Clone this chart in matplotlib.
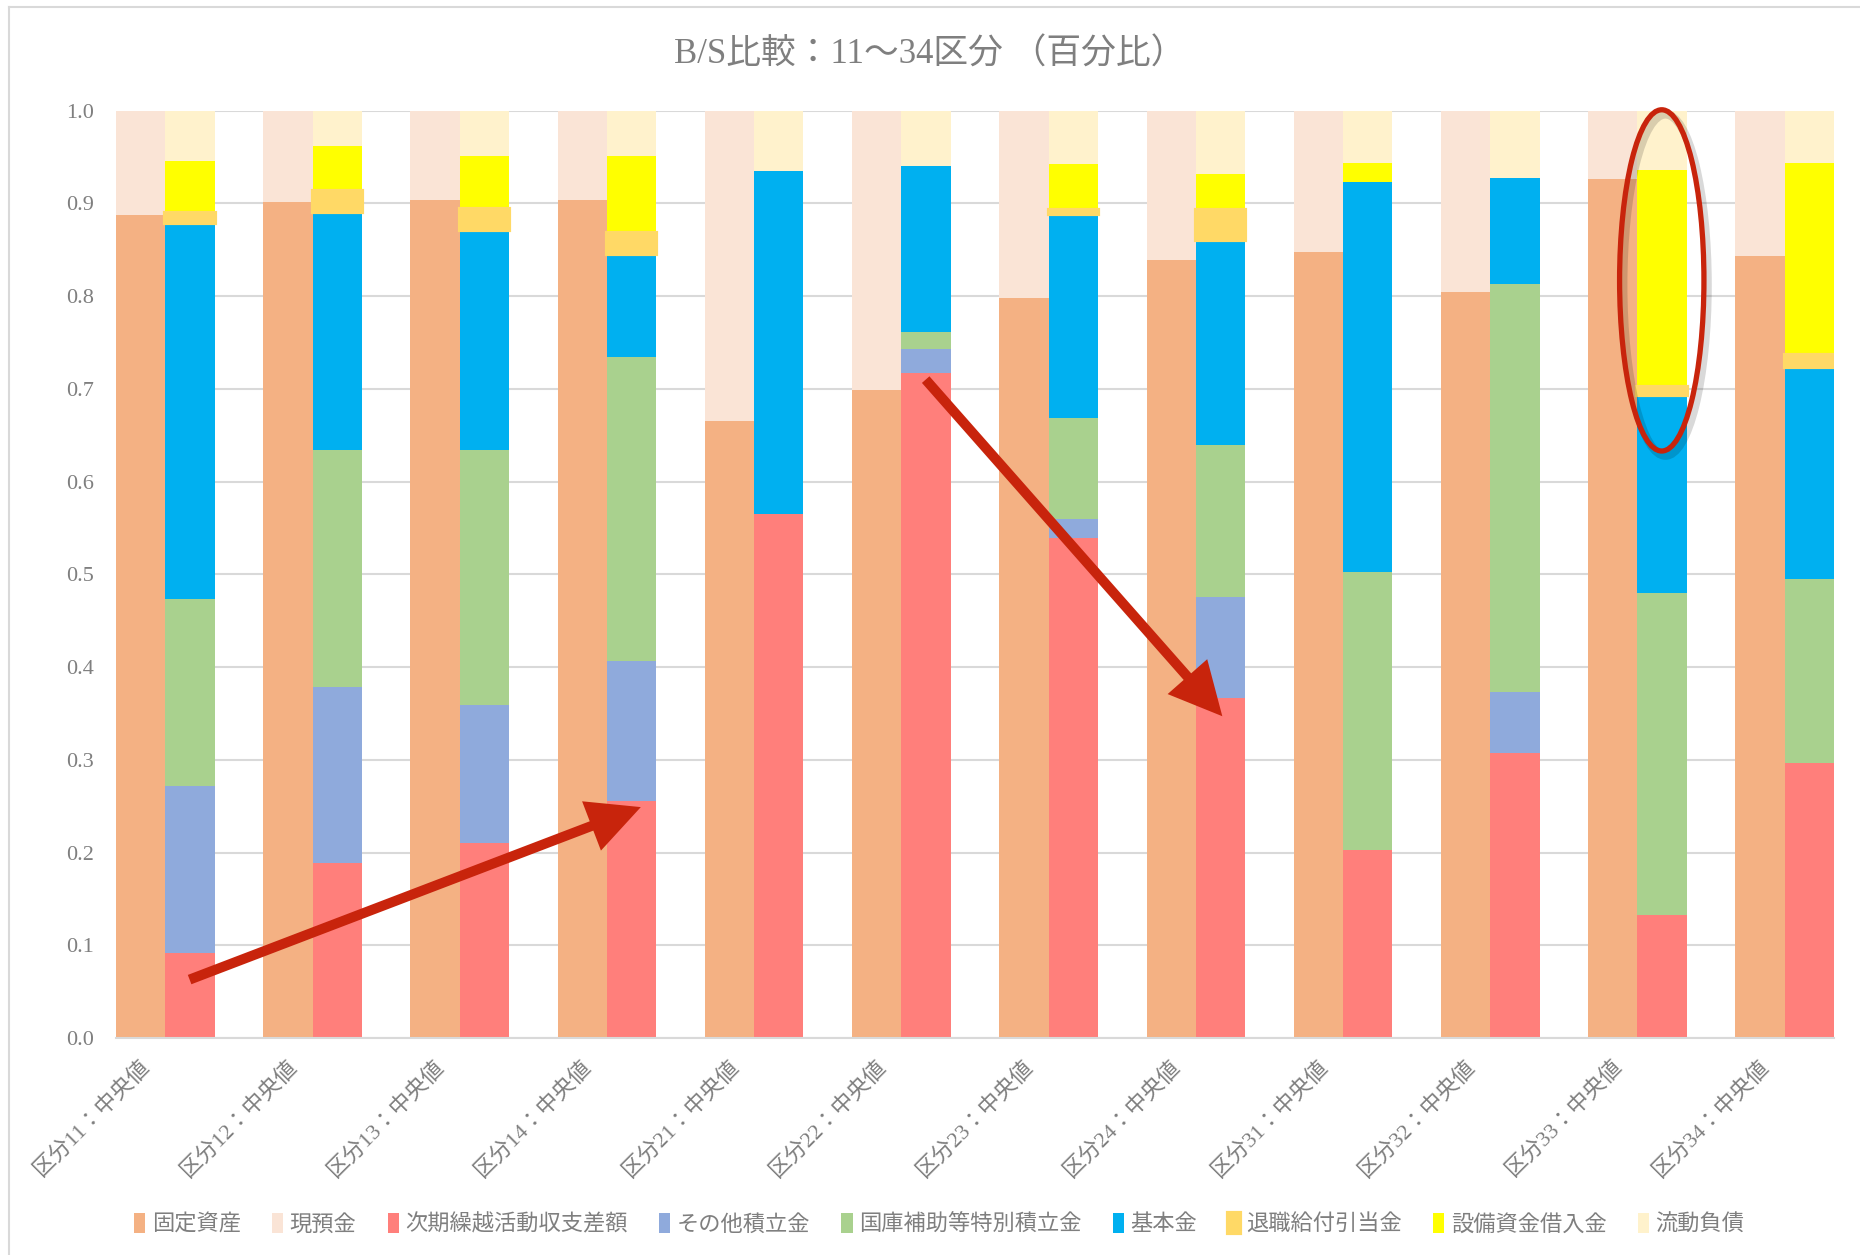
import matplotlib
matplotlib.use("Agg")
import matplotlib.pyplot as plt
import numpy as np
from matplotlib.patches import Ellipse
from matplotlib.transforms import ScaledTranslation

plt.rcParams['font.family'] = ['Liberation Serif', 'Noto Sans CJK JP', 'DejaVu Sans']

# ---------------- data ----------------
categories = ["区分11：中央値", "区分12：中央値", "区分13：中央値", "区分14：中央値",
              "区分21：中央値", "区分22：中央値", "区分23：中央値", "区分24：中央値",
              "区分31：中央値", "区分32：中央値", "区分33：中央値", "区分34：中央値"]

# left stack (assets)
kotei_shisan = [0.887, 0.902, 0.904, 0.904, 0.665, 0.699, 0.798, 0.839, 0.848, 0.804, 0.926, 0.843]
genyokin     = [0.113, 0.098, 0.096, 0.096, 0.335, 0.301, 0.202, 0.161, 0.152, 0.196, 0.074, 0.157]

# right stack (liabilities / net assets)
jiki_kurikoshi = [0.092, 0.189, 0.210, 0.256, 0.565, 0.717, 0.539, 0.367, 0.203, 0.307, 0.133, 0.297]
sonota_tsumi   = [0.180, 0.190, 0.149, 0.151, 0.000, 0.026, 0.021, 0.109, 0.000, 0.066, 0.000, 0.000]
kokko_hojo     = [0.201, 0.255, 0.275, 0.327, 0.000, 0.018, 0.109, 0.163, 0.300, 0.440, 0.347, 0.198]
kihonkin       = [0.406, 0.257, 0.237, 0.111, 0.370, 0.179, 0.220, 0.222, 0.420, 0.114, 0.213, 0.229]
taishoku       = [0.011, 0.022, 0.023, 0.023, 0.000, 0.000, 0.004, 0.032, 0.000, 0.000, 0.009, 0.013]
setsubi_kari   = [0.056, 0.049, 0.057, 0.083, 0.000, 0.000, 0.049, 0.039, 0.021, 0.000, 0.234, 0.207]
ryudo_fusai    = [0.054, 0.038, 0.049, 0.049, 0.065, 0.060, 0.058, 0.068, 0.056, 0.073, 0.064, 0.056]

series_names = ["固定資産", "現預金", "次期繰越活動収支差額", "その他積立金", "国庫補助等特別積立金",
                "基本金", "退職給付引当金", "設備資金借入金", "流動負債"]
colors = ["#F4B183", "#FAE4D6", "#FF7F7B", "#8FAADC", "#A9D18E",
          "#00B0F0", "#FFD966", "#FFFF00", "#FFF2CC"]

title = "B/S比較：11～34区分 （百分比）"
yticks = [0.0, 0.1, 0.2, 0.3, 0.4, 0.5, 0.6, 0.7, 0.8, 0.9, 1.0]

# ---------------- figure ----------------
fig = plt.figure(figsize=(18.6, 12.55), dpi=100)
ax = fig.add_axes([116/1860, 1 - 1038/1255, (1834-116)/1860, (1038-110.7)/1255])

x = np.arange(len(categories))
bw = 0.335
xl = x - bw/2
xr = x + bw/2

handles = []
# left stack
bottom = np.zeros(len(x))
for vals, name, col in zip([kotei_shisan, genyokin], series_names[:2], colors[:2]):
    v = np.array(vals)
    h = ax.bar(xl, v, bw, bottom=bottom, color=col, label=name, linewidth=0, zorder=2)
    handles.append(h)
    bottom += v

# right stack
right_series = [jiki_kurikoshi, sonota_tsumi, kokko_hojo, kihonkin, taishoku, setsubi_kari, ryudo_fusai]
bottom = np.zeros(len(x))
for vals, name, col in zip(right_series, series_names[2:], colors[2:]):
    v = np.array(vals)
    if name == "退職給付引当金":
        lw = np.where(v > 0, 3.0, 0.0)
        h = ax.bar(xr, v, bw, bottom=bottom, color=col, edgecolor=col, linewidth=lw,
                   label=name, zorder=3)
    else:
        h = ax.bar(xr, v, bw, bottom=bottom, color=col, linewidth=0, label=name, zorder=2)
    handles.append(h)
    bottom += v

ax.set_xlim(-bw, len(x) - 1 + bw)
ax.set_ylim(0, 1.0)
ax.set_yticks(yticks)
ax.set_yticklabels([f"{t:.1f}" for t in yticks])
ax.yaxis.grid(True, color="#D9D9D9", linewidth=1.5, zorder=0)
ax.set_axisbelow(True)
for s in ["top", "right", "left"]:
    ax.spines[s].set_visible(False)
ax.spines["bottom"].set_color("#D9D9D9")
ax.spines["bottom"].set_linewidth(1.5)
ax.tick_params(axis="y", length=0, pad=16, labelsize=16, labelcolor="#7F7F7F")
ax.tick_params(axis="x", length=0, pad=8, labelsize=16, labelcolor="#7F7F7F")

ax.set_xticks(x)
ax.set_xticklabels(categories, rotation=45, ha="right", va="center", rotation_mode="anchor")
off = ScaledTranslation(-18/100, -14/100, fig.dpi_scale_trans)
for lab in ax.get_xticklabels():
    lab.set_transform(lab.get_transform() + off)

fig.text(0.5, 1 - 55/1255, title, ha="center", va="center", fontsize=25, color="#7F7F7F")

fig.legend(handles=handles, labels=series_names, loc="center", bbox_to_anchor=(0.505, 1 - 1224/1255),
           ncol=9, frameon=False, fontsize=16, handlelength=0.5, handleheight=1.05,
           handletextpad=0.3, columnspacing=1.4, labelcolor="#7F7F7F")

# annotations
red = "#C8240C"
arrow_style = "simple,head_length=1.9,head_width=1.9,tail_width=0.36"
ax.annotate("", xy=(3.23, 0.249), xytext=(0.165, 0.063),
            arrowprops=dict(arrowstyle=arrow_style, color=red, lw=0, mutation_scale=20,
                            shrinkA=0, shrinkB=0), zorder=6, annotation_clip=False)
ax.annotate("", xy=(7.18, 0.347), xytext=(5.165, 0.710),
            arrowprops=dict(arrowstyle=arrow_style, color=red, lw=0, mutation_scale=20,
                            shrinkA=0, shrinkB=0), zorder=6, annotation_clip=False)

shadow = Ellipse((10.19, 0.812), 0.573, 0.368, fill=False, edgecolor="#000000", alpha=0.15,
                 linewidth=6, zorder=5, clip_on=False)
ax.add_patch(shadow)
ell = Ellipse((10.165, 0.817), 0.573, 0.368, fill=False, edgecolor=red, linewidth=3.8,
              zorder=6, clip_on=False)
ax.add_patch(ell)

# chart border (Excel-style frame)
fig.add_artist(plt.Line2D([9/1860, 9/1860], [0, 1 - 7/1255], transform=fig.transFigure,
                          color="#D9D9D9", linewidth=1.5))
fig.add_artist(plt.Line2D([9/1860, 1], [1 - 7/1255, 1 - 7/1255], transform=fig.transFigure,
                          color="#D9D9D9", linewidth=1.5))

fig.savefig("out.png", dpi=100, facecolor="white")
